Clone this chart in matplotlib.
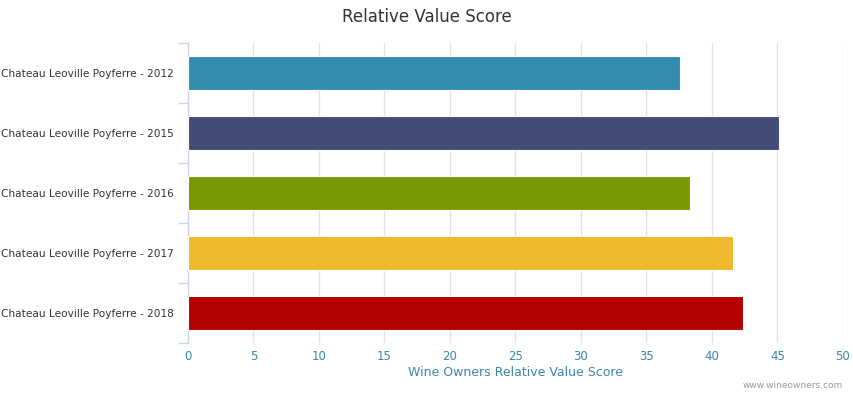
import matplotlib
matplotlib.use("Agg")
import matplotlib.pyplot as plt
from matplotlib.ticker import FixedLocator

categories = ["Chateau Leoville Poyferre - 2012",
              "Chateau Leoville Poyferre - 2015",
              "Chateau Leoville Poyferre - 2016",
              "Chateau Leoville Poyferre - 2017",
              "Chateau Leoville Poyferre - 2018"]
values = [37.55, 45.1, 38.35, 41.6, 42.4]
colors = ["#348caf", "#444c79", "#789a00", "#efb92d", "#b40000"]
xticks = [0, 5, 10, 15, 20, 25, 30, 35, 40, 45, 50]

plt.rcParams['font.family'] = ['DejaVu Sans']
fig = plt.figure(figsize=(8.54, 3.97), dpi=100)
ax = fig.add_axes([188/854, 1-343/397, (843-188)/854, 300/397])

y = list(range(len(categories)))
ax.barh(y, values, height=0.58, color=colors, edgecolor="white", linewidth=0.8, zorder=3)
ax.set_ylim(len(categories)-0.5, -0.5)
ax.set_xlim(0, 50)

ax.set_yticks(y)
ax.set_yticklabels(categories, fontsize=7.6, color="#333333")
ax.yaxis.set_minor_locator(FixedLocator([i - 0.5 for i in range(len(categories)+1)]))
ax.tick_params(axis='y', which='major', length=0, pad=10)
ax.tick_params(axis='y', which='minor', length=7, color="#ccd6eb", width=1)

ax.set_xticks(xticks)
ax.set_xticklabels([str(t) for t in xticks], fontsize=8.5, color="#3a86a8")
ax.tick_params(axis='x', length=0, pad=5)
ax.grid(axis='x', color="#e3e3e3", linewidth=1, zorder=0)

for s in ["top", "right", "bottom"]:
    ax.spines[s].set_visible(False)
ax.spines["left"].set_color("#ccd6eb")
ax.spines["left"].set_linewidth(1)

ax.set_xlabel("Wine Owners Relative Value Score", fontsize=9, color="#3a86a8", labelpad=2)
fig.text(0.5, 1-17/397, "Relative Value Score", ha="center", va="center", fontsize=12, color="#333333")
fig.text(843/854, 1-386/397, "www.wineowners.com", ha="right", va="center", fontsize=6.5, color="#999999")

fig.savefig("out.png", dpi=100)
